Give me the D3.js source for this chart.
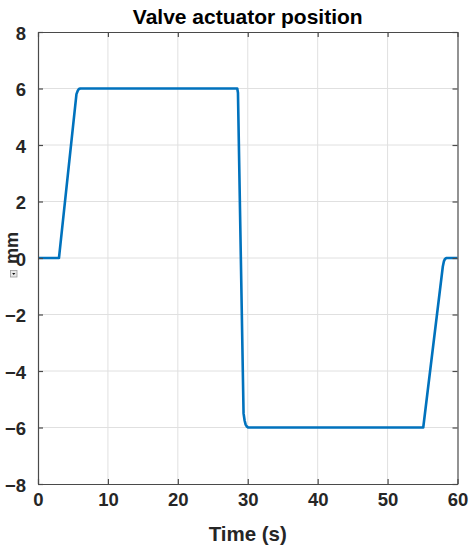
<!DOCTYPE html>
<html>
<head>
<meta charset="utf-8">
<script src="https://cdn.jsdelivr.net/npm/d3@7"></script>
<style>
html,body{margin:0;padding:0;background:#fff;}
svg{display:block;font-family:"Liberation Sans",Arial,Helvetica,sans-serif;}
</style>
</head>
<body>
<svg id="chart" width="473" height="550"></svg>
<script>
// Data
const timeS = [0, 3.0, 5.5, 5.7, 5.85, 6.05, 6.3, 28.5, 28.6, 29.4, 29.55, 29.7, 29.85, 30.05, 30.4, 55.1, 57.9, 58.05, 58.2, 58.4, 58.8, 60];
const positionMm = [0, 0, 5.8, 5.93, 5.98, 6.0, 6.0, 6.0, 5.85, -5.5, -5.75, -5.9, -5.96, -6.0, -6.0, -6.0, -0.3, -0.12, -0.04, 0, 0, 0];
const xTicks = [0, 10, 20, 30, 40, 50, 60];
const yTicks = [-8, -6, -4, -2, 0, 2, 4, 6, 8];
const titleText = "Valve actuator position";
const xLabel = "Time (s)";
const yLabel = "mm";

const W = 473, H = 550;
const m = {left: 38, top: 32, right: 15.5, bottom: 66};
const svg = d3.select("#chart");
const x = d3.scaleLinear().domain([0, 60]).range([m.left, W - m.right]);
const y = d3.scaleLinear().domain([-8, 8]).range([H - m.bottom, m.top]);

// grid
const g = svg.append("g");
g.selectAll(".gx").data(xTicks.slice(1, -1)).join("line")
  .attr("x1", d => x(d)).attr("x2", d => x(d))
  .attr("y1", y(-8)).attr("y2", y(8))
  .attr("stroke", "#e0e0e0").attr("stroke-width", 1);
g.selectAll(".gy").data(yTicks.slice(1, -1)).join("line")
  .attr("y1", d => y(d)).attr("y2", d => y(d))
  .attr("x1", x(0)).attr("x2", x(60))
  .attr("stroke", "#e0e0e0").attr("stroke-width", 1);

// line
const line = d3.line().x((d, i) => x(timeS[i])).y(d => y(d));
svg.append("path").datum(positionMm)
  .attr("d", line)
  .attr("fill", "none")
  .attr("stroke", "#0072BD")
  .attr("stroke-width", 2.6)
  .attr("stroke-linejoin", "round");

// axes (box with inward ticks)
const axCol = "#4a4a4a";
const fs = 18.5;
const axB = svg.append("g").attr("transform", `translate(0,${y(-8)})`)
  .call(d3.axisBottom(x).tickValues(xTicks).tickSizeInner(-5).tickSizeOuter(0).tickPadding(9));
const axT = svg.append("g").attr("transform", `translate(0,${y(8)})`)
  .call(d3.axisTop(x).tickValues(xTicks).tickSizeInner(-5).tickSizeOuter(0).tickFormat(""));
const axL = svg.append("g").attr("transform", `translate(${x(0)},0)`)
  .call(d3.axisLeft(y).tickValues(yTicks).tickSizeInner(-5).tickSizeOuter(0).tickPadding(12));
const axR = svg.append("g").attr("transform", `translate(${x(60)},0)`)
  .call(d3.axisRight(y).tickValues(yTicks).tickSizeInner(-5).tickSizeOuter(0).tickFormat(""));
[axB, axT, axL, axR].forEach(a => {
  a.select(".domain").attr("stroke", axCol).attr("stroke-width", 1.2);
  a.selectAll(".tick line").attr("stroke", axCol).attr("stroke-width", 1.2);
  a.selectAll(".tick text").attr("fill", "#262626").attr("font-size", fs).attr("font-weight", "bold")
    .attr("font-family", "Liberation Sans, Arial, sans-serif");
});
axL.selectAll(".tick text").attr("dy", "0.40em");

// title
svg.append("text").attr("x", (x(0) + x(60)) / 2).attr("y", 24)
  .attr("text-anchor", "middle").attr("font-size", 21).attr("font-weight", "bold")
  .attr("fill", "#000").text(titleText);

// x label
svg.append("text").attr("x", (x(0) + x(60)) / 2).attr("y", 541)
  .attr("text-anchor", "middle").attr("font-size", 20.5).attr("font-weight", "bold")
  .attr("fill", "#262626").text(xLabel);

// y label
svg.append("text").attr("transform", `translate(18,248) rotate(-90)`)
  .attr("text-anchor", "middle").attr("font-size", 18).attr("font-weight", "bold")
  .attr("fill", "#262626").text(yLabel);

// small dropdown icon under the y label
const ic = svg.append("g").attr("transform", "translate(10.5,270.5)");
ic.append("rect").attr("width", 6.5).attr("height", 6.5).attr("fill", "#e8e8e8")
  .attr("stroke", "#9a9a9a").attr("stroke-width", 0.8);
ic.append("path").attr("d", "M1.6,2.4 L4.9,2.4 L3.25,4.6 Z").attr("fill", "#111");
</script>
</body>
</html>
